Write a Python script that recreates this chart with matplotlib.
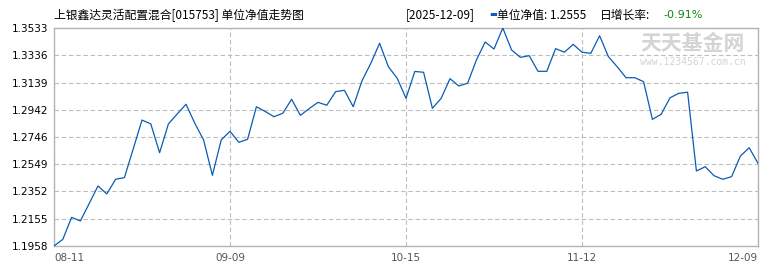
import matplotlib
matplotlib.use('Agg')
from matplotlib import pyplot as plt

plt.rcParams['font.family'] = ['Noto Sans CJK SC', 'DejaVu Sans']

# unit NAV, 81 trading days
nav = [1.1958, 1.2006, 1.2165, 1.2139, 1.2265, 1.2392, 1.2334, 1.2440, 1.2452, 1.2659,
       1.2868, 1.2840, 1.2632, 1.2840, 1.2912, 1.2982, 1.2845, 1.2724, 1.2469, 1.2724,
       1.2787, 1.2707, 1.2729, 1.2964, 1.2930, 1.2892, 1.2917, 1.3018, 1.2902, 1.2951,
       1.2996, 1.2975, 1.3073, 1.3083, 1.2964, 1.3152, 1.3278, 1.3423, 1.3253, 1.3170,
       1.3025, 1.3219, 1.3213, 1.2953, 1.3025, 1.3167, 1.3114, 1.3134, 1.3302, 1.3432,
       1.3381, 1.3533, 1.3374, 1.3321, 1.3333, 1.3220, 1.3220, 1.3384, 1.3358, 1.3415,
       1.3358, 1.3350, 1.3477, 1.3326, 1.3253, 1.3174, 1.3174, 1.3145, 1.2873, 1.2910,
       1.3029, 1.3061, 1.3069, 1.2500, 1.2531, 1.2466, 1.2440, 1.2459, 1.2608, 1.2668,
       1.2555]
xtick_pos = [0, 20, 40, 60, 80]
xtick_labels = ['08-11', '09-09', '10-15', '11-12', '12-09']
ytick_vals = [1.1958, 1.2155, 1.2352, 1.2549, 1.2746, 1.2942, 1.3139, 1.3336, 1.3533]

W, H = 770, 270
fig = plt.figure(figsize=(W / 100, H / 100), dpi=100)
ax = fig.add_axes([54 / W, (H - 246) / H, 704 / W, 218 / H])

ax.plot(range(len(nav)), nav, color='#0a5cb4', lw=0.9, zorder=3)
ax.set_xlim(0, len(nav) - 1)
ax.set_ylim(ytick_vals[0], ytick_vals[-1])

ax.set_yticks(ytick_vals)
ax.set_yticklabels(['%.4f' % v for v in ytick_vals], family='DejaVu Sans', fontsize=7.5)
ax.set_xticks(xtick_pos)
ax.set_xticklabels(xtick_labels, family='DejaVu Sans', fontsize=7.5, color='#555555')
xl = ax.get_xticklabels()
xl[0].set_ha('left')
xl[-1].set_ha('right')
ax.tick_params(length=0, pad=4)
ax.tick_params(axis='x', pad=5)

ax.grid(True, color='#bdbdbd', ls=(0, (4, 2.5)), lw=0.8)
for s in ax.spines.values():
    s.set_color('#b4b4b4')
    s.set_linewidth(1)

# watermark
fig.text(693 / W, 1 - 44 / H, '天天基金网', fontsize=15, fontweight='bold', color='#d4d4d4',
         ha='center', va='center')
fig.text(693 / W, 1 - 62 / H, 'www.1234567.com.cn', fontsize=7, family='DejaVu Sans Mono',
         color='#d4d4d4', ha='center', va='center')

# header
fig.text(54 / W, 1 - 15 / H, '上银鑫达灵活配置混合[015753] 单位净值走势图', fontsize=8.5,
         ha='left', va='center')
fig.text(406 / W, 1 - 15 / H, '[2025-12-09]', fontsize=8.5, ha='left', va='center')
fig.text(489 / W, 1 - 15 / H, '▬', fontsize=6, color='#0a5cb4', ha='left', va='center',
         family='DejaVu Sans')
fig.text(497 / W, 1 - 15 / H, '单位净值: 1.2555', fontsize=8.5, ha='left', va='center')
fig.text(600 / W, 1 - 15 / H, '日增长率:', fontsize=8.5, ha='left', va='center')
fig.text(663 / W, 1 - 15 / H, '-0.91%', fontsize=8, color='#0c8a0c', ha='left', va='center',
         family='DejaVu Sans')

fig.savefig('out.png', dpi=100, facecolor='white')
